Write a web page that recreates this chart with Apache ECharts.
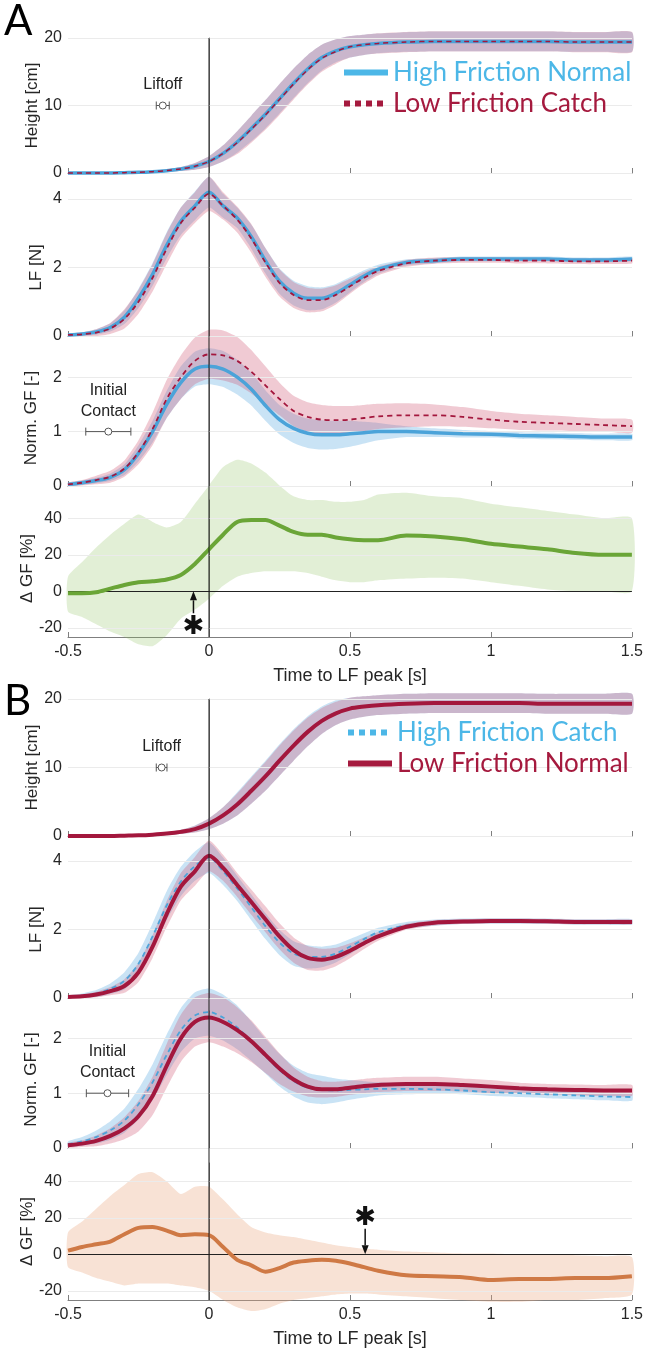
<!DOCTYPE html>
<html>
<head>
<meta charset="utf-8">
<script src="https://cdn.jsdelivr.net/npm/echarts@6/dist/echarts.min.js"></script>
<style>
html, body { margin: 0; padding: 0; background: #fff; }
#chart { width: 646px; height: 1353px; }
</style>
</head>
<body>
<div id="chart"></div>
<script>
// time base (s, relative to LF peak)
const T = [-0.5,-0.45,-0.4,-0.35,-0.3,-0.25,-0.2,-0.15,-0.1,-0.05,0,0.05,0.1,0.15,0.2,0.25,0.3,0.35,0.4,0.45,0.5,0.55,0.6,0.7,0.8,0.9,1.0,1.1,1.2,1.3,1.4,1.5];
const xTicks = [-0.5, 0, 0.5, 1, 1.5];
const heightTicks = [0, 10, 20];
const lfTicks = [0, 2, 4];
const gfTicks = [0, 1, 2];
const dgfTicks = [-20, 0, 20, 40];

// ---- panel A : High Friction Normal (blue) vs Low Friction Catch (red) ----
const aHeightBlue   = [0,0,0,0,0.05,0.1,0.2,0.35,0.6,1.0,1.7,2.9,4.6,6.6,8.7,11.0,13.3,15.4,17.1,18.1,18.7,19.0,19.2,19.4,19.5,19.5,19.5,19.5,19.5,19.4,19.4,19.4];
const aHeightBlueSd = [0.1,0.1,0.1,0.1,0.1,0.1,0.15,0.2,0.3,0.5,0.8,1.2,1.6,1.9,2.1,2.2,2.2,2.1,1.9,1.7,1.6,1.5,1.45,1.45,1.45,1.45,1.45,1.45,1.45,1.45,1.45,1.45];
const aHeightRed    = [0,0,0,0,0.05,0.1,0.2,0.35,0.6,1.0,1.7,2.9,4.5,6.5,8.6,10.9,13.2,15.3,17.0,18.0,18.7,19.0,19.2,19.4,19.5,19.5,19.5,19.5,19.5,19.4,19.4,19.4];
const aHeightRedSd  = [0.1,0.1,0.1,0.1,0.1,0.1,0.15,0.2,0.3,0.5,0.8,1.2,1.7,2.0,2.2,2.3,2.3,2.2,2.0,1.8,1.6,1.5,1.5,1.5,1.5,1.5,1.5,1.5,1.5,1.5,1.5,1.5];

const aLfBlue   = [0.03,0.06,0.12,0.25,0.55,1.1,1.8,2.65,3.35,3.8,4.2,3.8,3.45,2.9,2.2,1.6,1.25,1.1,1.1,1.25,1.5,1.75,1.95,2.15,2.2,2.25,2.25,2.25,2.25,2.22,2.22,2.25];
const aLfBlueSd = [0.03,0.05,0.08,0.12,0.2,0.28,0.33,0.38,0.4,0.42,0.45,0.35,0.3,0.35,0.37,0.37,0.36,0.35,0.32,0.27,0.22,0.17,0.13,0.09,0.08,0.07,0.07,0.07,0.07,0.07,0.07,0.07];
const aLfRed    = [0.03,0.05,0.1,0.22,0.5,1.0,1.7,2.55,3.3,3.75,4.15,3.8,3.4,2.85,2.15,1.55,1.2,1.05,1.05,1.2,1.45,1.7,1.9,2.12,2.2,2.22,2.22,2.2,2.2,2.18,2.18,2.2];
const aLfRedSd  = [0.03,0.06,0.1,0.16,0.28,0.35,0.4,0.45,0.45,0.45,0.5,0.4,0.38,0.42,0.42,0.4,0.38,0.36,0.33,0.28,0.22,0.17,0.13,0.1,0.09,0.08,0.08,0.08,0.08,0.08,0.08,0.08];

const aGfBlue   = [0.03,0.06,0.1,0.16,0.3,0.6,1.0,1.5,1.9,2.15,2.2,2.15,2.0,1.78,1.48,1.22,1.06,0.97,0.94,0.94,0.96,0.98,1.0,1.0,0.98,0.96,0.95,0.93,0.92,0.91,0.9,0.9];
const aGfBlueSd = [0.03,0.04,0.05,0.07,0.1,0.15,0.2,0.25,0.3,0.32,0.33,0.33,0.32,0.3,0.28,0.27,0.27,0.27,0.27,0.26,0.24,0.2,0.16,0.1,0.08,0.07,0.06,0.06,0.06,0.06,0.06,0.06];
const aGfRed    = [0.03,0.06,0.11,0.17,0.32,0.62,1.05,1.6,2.0,2.3,2.42,2.4,2.3,2.1,1.85,1.6,1.38,1.27,1.22,1.21,1.22,1.25,1.28,1.3,1.3,1.27,1.22,1.18,1.16,1.14,1.12,1.1];
const aGfRedSd  = [0.03,0.05,0.08,0.11,0.15,0.22,0.3,0.35,0.4,0.43,0.45,0.46,0.44,0.4,0.35,0.3,0.28,0.27,0.27,0.26,0.25,0.24,0.23,0.22,0.2,0.18,0.16,0.15,0.14,0.13,0.12,0.12];

const aDgf   = [-1,-1,-0.5,1.5,3.5,5,5.5,6.5,9,15,23,31,38,39,39,36,32.5,31,31,29.5,28.5,28,28,30.5,30,28.5,26,24.5,23,21,20,20];
const aDgfHi = [8,16,24,31,37,42,38,35,38,48,58,68,72,70,65,58,52,50,50,49,49,50,53,54,52,51,48,46,44,42,40,40];
const aDgfLo = [-11,-14,-18,-22,-25,-29,-30,-24,-15,-10,-4,3,8,10,11,11,11,10,8,6,5,5,6,7,7.5,7,5,3,1,0,0,0];

// ---- panel B : High Friction Catch (blue) vs Low Friction Normal (red) ----
const bHeightBlue   = [0,0,0,0,0.05,0.1,0.2,0.35,0.6,1.05,1.8,3.0,4.7,6.7,8.8,11.1,13.3,15.3,16.9,18.0,18.6,18.9,19.1,19.3,19.4,19.4,19.4,19.4,19.3,19.3,19.3,19.3];
const bHeightBlueSd = [0.1,0.1,0.1,0.1,0.1,0.1,0.15,0.2,0.3,0.5,0.8,1.2,1.7,2.0,2.2,2.3,2.3,2.2,2.0,1.8,1.6,1.5,1.45,1.45,1.45,1.45,1.45,1.45,1.45,1.45,1.45,1.45];
const bHeightRed    = [0,0,0,0,0.05,0.1,0.2,0.35,0.6,1.0,1.8,3.0,4.6,6.6,8.7,11.0,13.2,15.2,16.8,17.9,18.6,18.9,19.1,19.3,19.4,19.4,19.4,19.4,19.3,19.3,19.3,19.3];
const bHeightRedSd  = [0.1,0.1,0.1,0.1,0.1,0.1,0.15,0.2,0.3,0.5,0.8,1.2,1.6,1.9,2.1,2.2,2.2,2.1,1.9,1.7,1.6,1.5,1.45,1.45,1.45,1.45,1.45,1.45,1.45,1.45,1.45,1.45];

const bLfBlue   = [0.04,0.07,0.13,0.27,0.5,1.0,1.8,2.7,3.4,3.85,4.1,3.7,3.2,2.65,2.1,1.62,1.3,1.2,1.2,1.3,1.5,1.72,1.92,2.12,2.2,2.24,2.25,2.25,2.24,2.22,2.22,2.22];
const bLfBlueSd = [0.03,0.06,0.1,0.15,0.25,0.32,0.38,0.42,0.43,0.43,0.45,0.4,0.37,0.38,0.38,0.37,0.36,0.34,0.3,0.26,0.22,0.17,0.13,0.1,0.09,0.08,0.08,0.08,0.08,0.08,0.08,0.08];
const bLfRed    = [0.03,0.05,0.1,0.2,0.35,0.75,1.5,2.45,3.25,3.7,4.15,3.8,3.3,2.8,2.3,1.8,1.4,1.17,1.12,1.2,1.38,1.6,1.8,2.08,2.2,2.23,2.25,2.25,2.24,2.22,2.22,2.22];
const bLfRedSd  = [0.03,0.05,0.08,0.12,0.2,0.28,0.33,0.38,0.4,0.42,0.45,0.38,0.35,0.37,0.38,0.38,0.37,0.35,0.32,0.27,0.22,0.17,0.13,0.09,0.08,0.07,0.07,0.07,0.07,0.07,0.07,0.07];

const bGfBlue   = [0.07,0.12,0.2,0.32,0.5,0.8,1.2,1.7,2.15,2.42,2.48,2.38,2.2,1.95,1.68,1.42,1.22,1.1,1.06,1.05,1.06,1.07,1.08,1.08,1.07,1.05,1.02,1.0,0.98,0.96,0.94,0.93];
const bGfBlueSd = [0.05,0.08,0.12,0.17,0.22,0.28,0.33,0.37,0.4,0.42,0.43,0.42,0.4,0.36,0.32,0.3,0.28,0.27,0.26,0.22,0.18,0.15,0.12,0.1,0.08,0.07,0.07,0.07,0.07,0.07,0.07,0.07];
const bGfRed    = [0.05,0.08,0.13,0.22,0.36,0.58,0.95,1.5,2.0,2.3,2.38,2.3,2.15,1.95,1.7,1.45,1.25,1.12,1.07,1.07,1.1,1.13,1.15,1.17,1.17,1.15,1.12,1.09,1.07,1.06,1.05,1.05];
const bGfRedSd  = [0.04,0.06,0.1,0.14,0.2,0.28,0.35,0.4,0.43,0.45,0.45,0.45,0.42,0.38,0.33,0.28,0.22,0.18,0.15,0.14,0.13,0.13,0.13,0.13,0.13,0.12,0.12,0.1,0.1,0.1,0.1,0.1];

const bDgf   = [2,4,5.5,7,11,14.5,15,13,10.5,11,10.5,4,-3,-6,-9.5,-7.5,-4.5,-3.5,-3,-3.5,-5,-7,-9,-11.5,-12,-12.5,-14,-13.5,-13.5,-13,-13,-12];
const bDgfHi = [12,18,25,32,38,44,45,40,33,37,37,30,22,15,12,10.5,9.5,8,6.5,5,4,3,2.5,1.5,1,0.5,0.5,0,0,-0.5,-1,-1.5];
const bDgfLo = [-7,-10,-13,-15,-17,-16,-16,-16,-17,-18,-20,-25,-29,-31,-30,-27,-25,-24,-23,-22,-21.5,-21.5,-22,-23,-24,-25,-26,-26,-25,-25,-24,-22];

// event markers: [mean time, y, sd]
const aLiftoff = [-0.164, 10, 0.023];
const bLiftoff = [-0.168, 10, 0.019];
const aContact = [-0.357, 1, 0.08];
const bContact = [-0.36, 1, 0.075];
// significance arrows: [time, arrow start, asterisk y]
const aSig = [-0.055, -12, -19.5];
const bSig = [0.554, 14, 19.7];

const FONT = '"Liberation Sans", Arial, sans-serif';
const TXT = '#262626';
const AX = '#7f7f7f';
const BLUE = '#4ba3d9', RED = '#a3173d', GREEN = '#6aa537', ORANGE = '#cf7945';
const BLUE_BAND = 'rgba(100,175,225,0.35)';
const RED_BAND = 'rgba(205,80,110,0.3)';
const GREEN_BAND = 'rgba(140,190,90,0.25)';
const ORANGE_BAND = 'rgba(232,165,125,0.32)';

const GRID = [[38,135],[199,137],[350,136],[500,137],[699,137],[861,137],[1011,137],[1163,137]];
const YR = [[0,20],[0,4],[0,2.5],[-25,50]];
const YT = [heightTicks, lfTicks, gfTicks, dgfTicks];
const YN = ['Height [cm]', 'LF [N]', 'Norm. GF [-]', '\u0394 GF [%]'];
const YGAP = [27, 23, 28, 32];

const series = [];
const pairs = v => T.map((t, i) => [t, v[i]]);

// shaded band between lo and hi, drawn as one polygon through the axis scales
function addBand(g, lo, hi, color) {
  series.push({ type: 'custom', xAxisIndex: g, yAxisIndex: g, silent: true, z: 1, clip: false,
    data: T.map((t, i) => [t, lo[i], hi[i]]),
    encode: { x: 0, y: [1, 2] },
    renderItem(p, api) {
      if (p.dataIndex !== 0) return null;
      const up = T.map((t, i) => api.coord([t, hi[i]]));
      const dn = T.map((t, i) => api.coord([t, lo[i]])).reverse();
      return { type: 'polygon', shape: { points: up.concat(dn), smooth: 0.2 }, style: { fill: color } };
    } });
}
function addSdBand(g, m, sd, color) {
  addBand(g, m.map((v, i) => v - sd[i]), m.map((v, i) => v + sd[i]), color);
}
function addLine(g, name, vals, color, width, dash, z, extra) {
  series.push(Object.assign({ type: 'line', name: name, xAxisIndex: g, yAxisIndex: g, data: pairs(vals),
    symbol: 'none', smooth: 0.3, clip: false, silent: true, z: z,
    itemStyle: { color: color },
    lineStyle: { color: color, width: width, type: dash ? [5, 4] : 'solid' } }, extra || {}));
}
function gridMarks(g, ticks, zero) {
  const data = ticks.map(v => ({ yAxis: v, lineStyle: { color: '#ebebeb', width: 1, type: 'solid' } }));
  if (zero) data.push({ yAxis: 0, lineStyle: { color: '#222', width: 1.2, type: 'solid' } });
  return { markLine: { silent: true, symbol: 'none', label: { show: false }, z: 2, animation: false, data: data } };
}

function errBar(g, ann, label) {
  series.push({ type: 'custom', xAxisIndex: g, yAxisIndex: g, silent: true, z: 8, data: [ann],
    renderItem(p, api) {
      const c = api.coord([api.value(0), api.value(1)]);
      const l = api.coord([api.value(0) - api.value(2), api.value(1)])[0];
      const r = api.coord([api.value(0) + api.value(2), api.value(1)])[0];
      const s = { stroke: '#555', lineWidth: 1, fill: null };
      return { type: 'group', children: [
        { type: 'line', shape: { x1: l, y1: c[1], x2: r, y2: c[1] }, style: s },
        { type: 'line', shape: { x1: l, y1: c[1] - 4, x2: l, y2: c[1] + 4 }, style: s },
        { type: 'line', shape: { x1: r, y1: c[1] - 4, x2: r, y2: c[1] + 4 }, style: s },
        { type: 'circle', shape: { cx: c[0], cy: c[1], r: 3.5 }, style: { stroke: '#555', fill: '#fff', lineWidth: 1 } },
        { type: 'text', x: c[0], y: c[1] - 10, style: { text: label, align: 'center', verticalAlign: 'bottom',
          font: '16px ' + FONT, fill: '#222', lineHeight: 21 } }
      ] };
    } });
}
function sigArrow(g, d) {
  series.push({ type: 'custom', xAxisIndex: g, yAxisIndex: g, silent: true, z: 9, data: [d],
    renderItem(p, api) {
      const t = api.value(0);
      const s = api.coord([t, api.value(1)]);
      const e = api.coord([t, 0]);
      const st = api.coord([t, api.value(2)]);
      const dir = e[1] < s[1] ? -1 : 1;
      const hl = 9;
      return { type: 'group', children: [
        { type: 'line', shape: { x1: s[0], y1: s[1], x2: e[0], y2: e[1] - dir * hl }, style: { stroke: '#111', lineWidth: 1.5 } },
        { type: 'polygon', shape: { points: [[e[0], e[1]], [e[0] - 3.5, e[1] - dir * hl], [e[0] + 3.5, e[1] - dir * hl]] }, style: { fill: '#111' } },
        { type: 'text', x: st[0], y: st[1], style: { text: '\u2731', align: 'center', verticalAlign: 'middle',
          font: '26px "DejaVu Sans"', fill: '#111' } }
      ] };
    } });
}

// panel A
addSdBand(0, aHeightBlue, aHeightBlueSd, BLUE_BAND);
addSdBand(0, aHeightRed, aHeightRedSd, RED_BAND);
addLine(0, 'High Friction Normal', aHeightBlue, BLUE, 3.5, false, 4, gridMarks(0, heightTicks));
addLine(0, 'Low Friction Catch', aHeightRed, RED, 1.5, true, 5);
errBar(0, aLiftoff, 'Liftoff');

addSdBand(1, aLfBlue, aLfBlueSd, BLUE_BAND);
addSdBand(1, aLfRed, aLfRedSd, RED_BAND);
addLine(1, 'High Friction Normal', aLfBlue, BLUE, 3.5, false, 4, gridMarks(1, lfTicks));
addLine(1, 'Low Friction Catch', aLfRed, RED, 1.8, true, 5);

addSdBand(2, aGfBlue, aGfBlueSd, BLUE_BAND);
addSdBand(2, aGfRed, aGfRedSd, RED_BAND);
addLine(2, 'High Friction Normal', aGfBlue, BLUE, 3.5, false, 4, gridMarks(2, gfTicks));
addLine(2, 'Low Friction Catch', aGfRed, RED, 1.8, true, 5);
errBar(2, aContact, 'Initial\nContact');

addBand(3, aDgfLo, aDgfHi, GREEN_BAND);
addLine(3, 'A \u0394GF', aDgf, GREEN, 4, false, 4, gridMarks(3, dgfTicks, true));
sigArrow(3, aSig);

// panel B
addSdBand(4, bHeightBlue, bHeightBlueSd, BLUE_BAND);
addSdBand(4, bHeightRed, bHeightRedSd, RED_BAND);
addLine(4, 'High Friction Catch', bHeightBlue, BLUE, 1.8, true, 4, gridMarks(4, heightTicks));
addLine(4, 'Low Friction Normal', bHeightRed, RED, 4, false, 5);
errBar(4, bLiftoff, 'Liftoff');

addSdBand(5, bLfBlue, bLfBlueSd, BLUE_BAND);
addSdBand(5, bLfRed, bLfRedSd, RED_BAND);
addLine(5, 'High Friction Catch', bLfBlue, BLUE, 1.8, true, 4, gridMarks(5, lfTicks));
addLine(5, 'Low Friction Normal', bLfRed, RED, 4, false, 5);

addSdBand(6, bGfBlue, bGfBlueSd, BLUE_BAND);
addSdBand(6, bGfRed, bGfRedSd, RED_BAND);
addLine(6, 'High Friction Catch', bGfBlue, BLUE, 1.8, true, 4, gridMarks(6, gfTicks));
addLine(6, 'Low Friction Normal', bGfRed, RED, 4, false, 5);
errBar(6, bContact, 'Initial\nContact');

addBand(7, bDgfLo, bDgfHi, ORANGE_BAND);
addLine(7, 'B \u0394GF', bDgf, ORANGE, 4, false, 4, gridMarks(7, dgfTicks, true));
sigArrow(7, bSig);

const legendText = { fontFamily: 'Lato, "Open Sans", sans-serif', fontSize: 26, lineHeight: 31 };
const hideSym = { opacity: 0 };
const option = {
  animation: false,
  grid: GRID.map(g => ({ left: 68, right: 14, top: g[0], height: g[1] })),
  xAxis: GRID.map((g, i) => ({
    type: 'value', gridIndex: i, min: -0.5, max: 1.5, interval: 0.5,
    axisLine: { show: true, onZero: false, lineStyle: { color: AX } },
    axisTick: { show: true, inside: true, length: 5, customValues: xTicks, lineStyle: { color: AX } },
    axisLabel: { show: i % 4 === 3, customValues: xTicks, fontSize: 16, color: TXT, fontFamily: FONT, margin: 7 },
    splitLine: { show: false },
    name: i % 4 === 3 ? 'Time to LF peak [s]' : '', nameLocation: 'middle', nameGap: 30,
    nameTextStyle: { fontSize: 18, color: TXT, fontFamily: FONT }
  })),
  yAxis: GRID.map((g, i) => ({
    type: 'value', gridIndex: i, min: YR[i % 4][0], max: YR[i % 4][1],
    axisLine: { show: true, lineStyle: { color: AX } },
    axisTick: { show: false },
    axisLabel: { customValues: YT[i % 4], fontSize: 16, color: TXT, fontFamily: FONT, margin: 6 },
    splitLine: { show: false },
    name: YN[i % 4], nameLocation: 'middle', nameGap: YGAP[i % 4], nameMoveOverlap: false,
    nameTextStyle: { fontSize: 17, color: TXT, fontFamily: FONT }
  })),
  legend: [
    { left: 336, top: 52, orient: 'vertical', itemWidth: 44, itemHeight: 14, itemGap: 0, selectedMode: false,
      textStyle: legendText,
      data: [
        { name: 'High Friction Normal', textStyle: { color: '#4cb7e7' }, itemStyle: hideSym, lineStyle: { width: 6, type: 'solid', color: '#4cb7e7' } },
        { name: 'Low Friction Catch', textStyle: { color: '#a51a3e' }, itemStyle: hideSym, lineStyle: { width: 6, type: [6, 5], color: '#a51a3e' } }
      ] },
    { left: 340, top: 712, orient: 'vertical', itemWidth: 44, itemHeight: 14, itemGap: 0, selectedMode: false,
      textStyle: legendText,
      data: [
        { name: 'High Friction Catch', textStyle: { color: '#4cb7e7' }, itemStyle: hideSym, lineStyle: { width: 6, type: [6, 5], color: '#4cb7e7' } },
        { name: 'Low Friction Normal', textStyle: { color: '#a51a3e' }, itemStyle: hideSym, lineStyle: { width: 6, type: 'solid', color: '#a51a3e' } }
      ] }
  ],
  series: series
};

const chart = echarts.init(document.getElementById('chart'), null, { renderer: 'canvas' });
chart.setOption(option);

// x = 0 reference line running through all four subplots of each panel
const zeroLines = [[0, 3], [4, 7]].map(([a, b]) => {
  const x = chart.convertToPixel({ xAxisIndex: a }, 0);
  const y1 = chart.convertToPixel({ yAxisIndex: a }, YR[0][1]);
  const y2 = chart.convertToPixel({ yAxisIndex: b }, YR[3][0]);
  return { type: 'line', shape: { x1: x, y1: y1, x2: x, y2: y2 }, style: { stroke: '#1a1a1a', lineWidth: 1 }, z: 50, silent: true };
});
chart.setOption({
  graphic: { elements: zeroLines.concat([
    { type: 'text', left: 4, top: 0, z: 60, style: { text: 'A', font: '42px Lato, sans-serif', fill: '#000' } },
    { type: 'text', left: 4, top: 680, z: 60, style: { text: 'B', font: '42px Lato, sans-serif', fill: '#000' } }
  ]) }
});
window.addEventListener('resize', () => chart.resize());
</script>
</body>
</html>
